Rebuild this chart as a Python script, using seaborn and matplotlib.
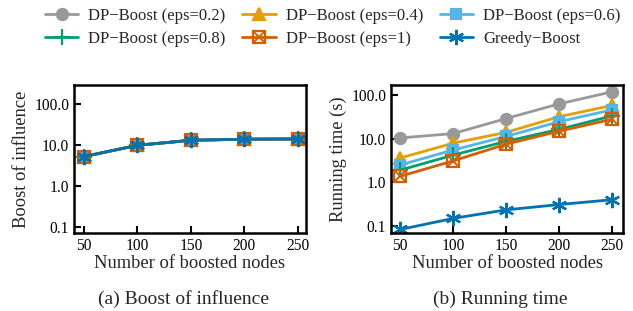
import pandas as pd
import matplotlib
matplotlib.use("Agg")
import matplotlib.pyplot as plt
import seaborn as sns

# datos
nodes = [50, 100, 150, 200, 250]
labels = ["DP\u2212Boost (eps=0.2)", "DP\u2212Boost (eps=0.4)", "DP\u2212Boost (eps=0.6)",
          "DP\u2212Boost (eps=0.8)", "DP\u2212Boost (eps=1)", "Greedy\u2212Boost"]
boost_eps02 = [5.2, 9.8, 13.0, 13.8, 14.0]
boost_eps04 = [5.2, 9.8, 13.0, 13.8, 14.0]
boost_eps06 = [5.2, 9.8, 13.0, 13.8, 14.0]
boost_eps08 = [5.2, 9.8, 13.0, 13.8, 14.0]
boost_eps1 = [5.2, 9.8, 13.0, 13.8, 14.0]
boost_greedy = [5.2, 9.8, 13.0, 13.8, 14.0]
time_eps02 = [10.4, 13.1, 29.0, 63.0, 119.0]
time_eps04 = [3.6, 7.9, 14.0, 32.0, 58.0]
time_eps06 = [2.5, 5.5, 11.3, 24.6, 46.0]
time_eps08 = [1.9, 4.2, 8.7, 16.4, 33.5]
time_eps1 = [1.37, 3.1, 7.5, 14.9, 28.0]
time_greedy = [0.083, 0.149, 0.234, 0.31, 0.40]

boost = [boost_eps02, boost_eps04, boost_eps06, boost_eps08, boost_eps1, boost_greedy]
times = [time_eps02, time_eps04, time_eps06, time_eps08, time_eps1, time_greedy]

colors = ["#999999", "#E69F00", "#56B4E9", "#009E73", "#D55E00", "#0072B2"]
markers = ["o", "^", "s", "+", "s", (6, 2, 0)]
msizes = [8, 9, 7, 12, 9, 11]

sns.set_style("ticks")
plt.rcParams["font.family"] = ["Liberation Serif", "DejaVu Serif"]

fig = plt.figure(figsize=(6.33, 3.11), dpi=100)
ax1 = fig.add_axes([74 / 633, 1 - 233 / 311, 232 / 633, 148 / 311])
ax2 = fig.add_axes([391 / 633, 1 - 233 / 311, 232 / 633, 148 / 311])

handles = []
for ax, data in [(ax1, boost), (ax2, times)]:
    handles = []
    for i in range(6):
        df = pd.DataFrame({"x": nodes, "y": data[i]})
        face = "none" if i == 4 else colors[i]
        sns.lineplot(data=df, x="x", y="y", ax=ax, color=colors[i], marker=markers[i],
                     markersize=msizes[i], linewidth=2, markeredgewidth=1.6,
                     markeredgecolor=colors[i], markerfacecolor=face, legend=False)
        ln = ax.lines[-1]
        if i == 4:
            # cuadrado con cruz dentro
            sns.lineplot(data=df, x="x", y="y", ax=ax, color=colors[i], marker="x",
                         markersize=7, linewidth=0, markeredgewidth=1.4,
                         markeredgecolor=colors[i], legend=False)
            handles.append((ln, ax.lines[-1]))
        else:
            handles.append(ln)
    ax.set_yscale("log")
    ax.set_xticks(nodes)
    ax.set_yticks([0.1, 1, 10, 100])
    ax.set_yticklabels(["0.1", "1.0", "10.0", "100.0"])
    ax.minorticks_off()
    ax.tick_params(direction="in", length=5, width=1.5, labelsize=11.2, colors="black", pad=3.5)
    for s in ax.spines.values():
        s.set_linewidth(1.8)
        s.set_color("black")
    ax.set_xlabel("Number of boosted nodes", fontsize=13.3, labelpad=1)

ax1.set_xlim(40.7, 257.5)
ax1.set_ylim(0.071, 290)
ax1.set_ylabel("Boost of influence", fontsize=13.3, labelpad=3)
ax2.set_xlim(41.5, 260)
ax2.set_ylim(0.069, 170)
ax2.set_ylabel("Running time (s)", fontsize=13.3, labelpad=3)

order = [0, 3, 1, 4, 2, 5]
fig.legend([handles[k] for k in order], [labels[k] for k in order], loc="upper left",
           bbox_to_anchor=(45 / 633, 1 - 8 / 311), ncol=3, frameon=False, fontsize=12,
           borderpad=0, borderaxespad=0, handlelength=2.0, columnspacing=1.0,
           handletextpad=0.6, labelspacing=0.44)

fig.text(183 / 633, 1 - 299 / 311, "(a) Boost of influence", ha="center", va="center", fontsize=14)
fig.text(500 / 633, 1 - 299 / 311, "(b) Running time", ha="center", va="center", fontsize=14)

fig.savefig("out.png", dpi=100)
